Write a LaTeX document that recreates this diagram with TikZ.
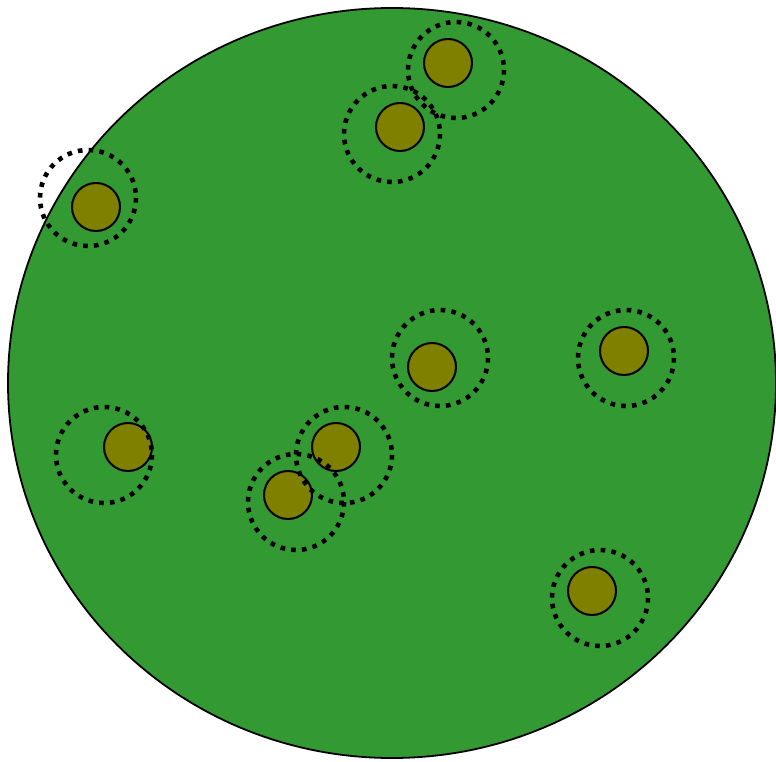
\documentclass[tikz,border=0pt]{standalone}
\begin{document}
\begin{tikzpicture}[x=1pt,y=-1pt,
  seed/.style={draw=black,line width=2pt,fill=olivec},
  halo/.style={draw=black,line width=4.6pt,dash pattern=on 4.6pt off 6.2pt}]
\definecolor{greenc}{HTML}{339933}
\definecolor{olivec}{HTML}{808000}
\useasboundingbox (0,0) rectangle (776,762);
\draw[line width=1.8pt,fill=greenc] (392,383) ellipse [x radius=384, y radius=375];
\foreach \x/\y in {448/63,400/127,96/207,432/367,624/351,128/447,336/447,288/495,592/591}
  \draw[seed] (\x,\y) circle (24);
\foreach \x/\y in {456/70,392/134,88/198,440/358,626/358,104/455,344/455,296/502,600/598}
  \draw[halo] (\x,\y) circle (48);
\end{tikzpicture}
\end{document}
